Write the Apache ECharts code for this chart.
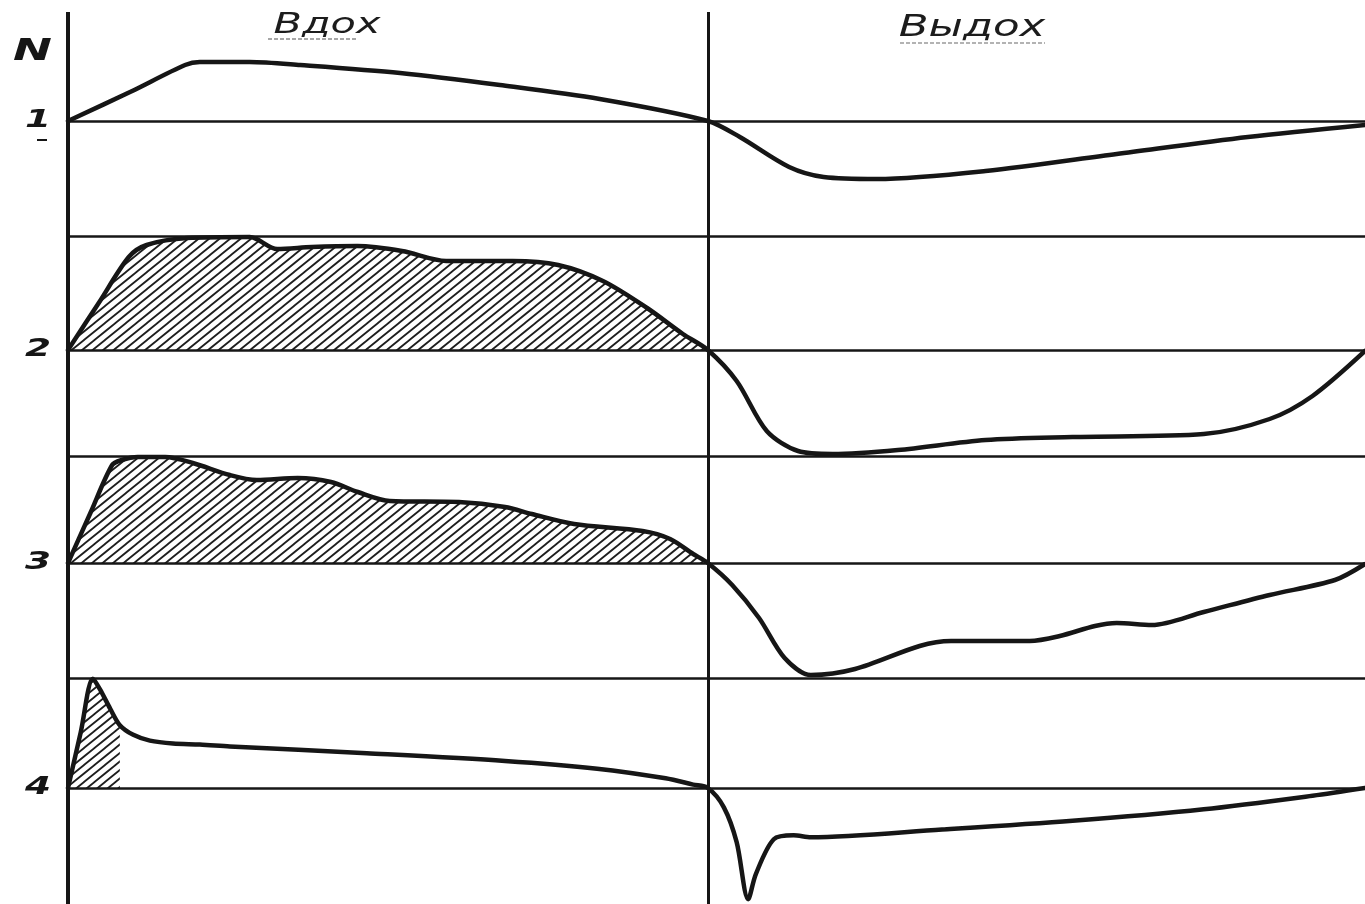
<!DOCTYPE html>
<html>
<head>
<meta charset="utf-8">
<script src="https://cdn.jsdelivr.net/npm/echarts@6/dist/echarts.min.js"></script>
<style>
html,body{margin:0;padding:0;background:#fff;}
#c{width:1365px;height:904px;}
</style>
</head>
<body>
<div id="c"></div>
<script>
// ---- data (time: inhale 0..100, exhale 100..~203; amplitude relative to each row's baseline) ----
const phaseLabels = ['Вдох', 'Выдох'];
const axisLetter = 'N';
const rowLabels = ['1', '2', '3', '4'];
const phaseBounds = [0, 100];
const rowTopLines = [null, 11.4, 10.7, 11.4];

const inhale1 = [[0,0],[9.7,2.9],[18.3,5.6],[20.6,5.9],[28.4,5.9],[36.3,5.6],[51.9,4.8],[67.5,3.6],[83.1,2.2],[100,0]];
const exhale1 = [[105,-1.6],[112.7,-4.6],[118.1,-5.6],[126.4,-5.8],[143.4,-5.0],[163.9,-3.3],[184.4,-1.6],[202.7,-0.4]];

const inhale2 = [[0,0],[4.8,4.7],[9.5,9.3],[12.3,10.5],[18.6,11.2],[28.4,11.3],[32.7,10.1],[38.1,10.3],[45.2,10.4],[52.2,9.9],[59.1,8.9],[69.5,8.9],[76.6,8.5],[83.6,6.9],[90.5,4.2],[96.1,1.6],[100,0]];
const exhale2 = [[104.5,-3.1],[109.2,-8.1],[114.1,-10.1],[119.5,-10.4],[129.7,-10.0],[143.4,-9.0],[157,-8.7],[177.5,-8.4],[187.8,-6.9],[194.5,-4.6],[202.7,-0.1]];

const inhale3 = [[0,0],[3.5,5.0],[6.9,9.8],[8.4,10.3],[10.9,10.6],[15.2,10.6],[19.5,10.0],[25.3,8.8],[29.5,8.3],[35.9,8.5],[41.1,8.1],[45.3,7.1],[50.3,6.2],[61.1,6.1],[68.3,5.6],[72.5,4.9],[79.1,3.9],[89.8,3.2],[94.1,2.4],[97.7,0.9],[100,0]];
const exhale3 = [[103.8,-2.2],[108,-5.5],[112,-9.5],[116.1,-11.2],[123,-10.6],[133.1,-8.3],[138,-7.8],[150.3,-7.8],[155,-7.3],[160.5,-6.3],[163.9,-6.0],[169.4,-6.2],[177.5,-4.9],[187.8,-3.2],[198,-1.7],[202.7,-0.1]];

const inhale4 = [[0,0],[2.0,5.8],[3.9,11.3],[5.0,10.2],[6.6,8.2],[8.1,6.5],[10.2,5.5],[12.8,4.9],[16.4,4.6],[20.6,4.5],[25.3,4.3],[46.7,3.6],[68.3,2.8],[82.7,2.0],[93.4,1.0],[97.7,0.35],[100,0]];
const exhale4 = [[102.5,-2.0],[104.5,-5.6],[106.3,-11.5],[107.5,-8.9],[110.3,-5.3],[113.4,-4.9],[116.1,-5.1],[136.6,-4.3],[157,-3.4],[177.5,-2.2],[194.5,-0.8],[202.7,0]];

const hatch4 = inhale4.filter(p => p[0] <= 8.1);

// ---- layout / style ----
const INK = '#161616';
const rowBase = [121, 350, 563, 792];
const UNIT = 10;          // px per amplitude unit
const XMAX = 202.7;

function makeHatch() {
  const w = 10.5, h = 8.5;
  const c = document.createElement('canvas');
  c.width = 21; c.height = 17;
  const g = c.getContext('2d');
  g.strokeStyle = '#1e1e1e';
  g.lineWidth = 1.8;
  g.lineCap = 'square';
  g.beginPath();
  for (let k = -1; k <= 4; k++) { g.moveTo((k - 2) * w, 2 * h); g.lineTo(k * w, 0); }
  g.stroke();
  return c;
}
const hatchFill = { image: makeHatch(), repeat: 'repeat' };

const rows = [
  { inh: inhale1, exh: exhale1, area: null },
  { inh: inhale2, exh: exhale2, area: inhale2 },
  { inh: inhale3, exh: exhale3, area: inhale3 },
  { inh: inhale4, exh: exhale4, area: hatch4 }
];

const grids = [], xAxes = [], yAxes = [], series = [];
rows.forEach((r, i) => {
  grids.push({ left: 68, right: 0, top: rowBase[i] - 12 * UNIT, height: 24 * UNIT, containLabel: false });
  xAxes.push({ type: 'value', gridIndex: i, min: 0, max: XMAX, show: false });
  yAxes.push({ type: 'value', gridIndex: i, min: -12, max: 12, show: false });
  const lines = [{ yAxis: 0 }];
  if (rowTopLines[i] != null) lines.push({ yAxis: rowTopLines[i] });
  if (r.area) {
    series.push({
      type: 'line', xAxisIndex: i, yAxisIndex: i, data: r.area,
      smooth: 0.3, showSymbol: false, silent: true, z: 1,
      lineStyle: { width: 0, opacity: 0 },
      areaStyle: { color: hatchFill, opacity: 1, origin: 'auto' },
      emphasis: { disabled: true }
    });
  }
  series.push({
    type: 'line', xAxisIndex: i, yAxisIndex: i, data: r.inh.concat(r.exh),
    smooth: 0.3, showSymbol: false, silent: true, z: 3,
    lineStyle: { color: INK, width: 4.5, cap: 'round', join: 'round' },
    emphasis: { disabled: true },
    markLine: {
      silent: true, symbol: ['none', 'none'], label: { show: false },
      lineStyle: { color: INK, width: 2.5, type: 'solid' },
      emphasis: { disabled: true },
      data: lines
    }
  });
});

// overlay grid for the phase boundaries (vertical lines)
grids.push({ left: 68, right: 0, top: 12, bottom: 0 });
xAxes.push({ type: 'value', gridIndex: 4, min: 0, max: XMAX, show: false });
yAxes.push({ type: 'value', gridIndex: 4, min: 0, max: 1, show: false });
series.push({
  type: 'line', xAxisIndex: 4, yAxisIndex: 4, data: [[0, 0]], showSymbol: false, silent: true,
  lineStyle: { width: 0 },
  markLine: {
    silent: true, symbol: ['none', 'none'], label: { show: false },
    lineStyle: { color: INK, type: 'solid' },
    data: [
      { xAxis: phaseBounds[0], lineStyle: { width: 4 } },
      { xAxis: phaseBounds[1], lineStyle: { width: 3 } }
    ]
  }
});

const chart = echarts.init(document.getElementById('c'), null, { renderer: 'canvas' });
chart.setOption({
  animation: false,
  backgroundColor: '#ffffff',
  grid: grids, xAxis: xAxes, yAxis: yAxes, series: series
});

// ---- text labels, placed from the axes ----
const FONT = '"DejaVu Sans", "Liberation Sans", sans-serif';
const gfx = [];
function txt(t, x, y, size, weight, sx, align, color) {
  gfx.push({
    type: 'text', x: x, y: y, scaleX: sx, silent: true, z: 10,
    style: {
      text: t, font: 'italic ' + weight + ' ' + size + 'px ' + FONT,
      fill: color || INK, textAlign: align, textVerticalAlign: 'middle',
      align: align, verticalAlign: 'middle'
    }
  });
}
function seg(x1, y1, x2, y2, color, w, dash) {
  gfx.push({
    type: 'line', silent: true, z: 10,
    shape: { x1: x1, y1: y1, x2: x2, y2: y2 },
    style: { stroke: color, lineWidth: w, lineDash: dash || null }
  });
}
rowLabels.forEach((t, i) => {
  const p = chart.convertToPixel({ gridIndex: i }, [0, 0]);
  txt(t, p[0] - 17, p[1] - 1, 25, 'bold', 1.5, 'right');
  if (i === 0) seg(p[0] - 31, p[1] + 19, p[0] - 21, p[1] + 19, INK, 2);
});
txt(axisLetter, 52, 52, 30, 'bold', 1.55, 'right');
txt(phaseLabels[0], 327, 26, 28, 'normal', 1.48, 'center', '#1c1c1c');
txt(phaseLabels[1], 972, 28, 30, 'normal', 1.45, 'center', '#1c1c1c');
seg(268, 39, 357, 39, '#8a8a8a', 1.5, [4, 2]);
seg(900, 43, 1045, 43, '#9a9a9a', 1.5, [4, 2]);

chart.setOption({ graphic: { elements: gfx } });
</script>
</body>
</html>
